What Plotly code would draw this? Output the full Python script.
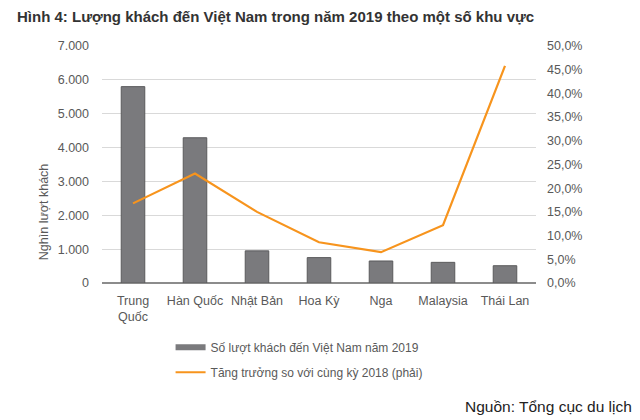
import plotly.graph_objects as go

categories = ["Trung<br>Quốc", "Hàn Quốc", "Nhật Bản", "Hoa Kỳ", "Nga", "Malaysia", "Thái Lan"]
visitors = [5800, 4290, 950, 750, 650, 610, 510]
growth = [16.8, 23.1, 15.0, 8.6, 6.5, 12.2, 45.8]

left_ticks = [0, 1000, 2000, 3000, 4000, 5000, 6000, 7000]
left_labels = ["0", "1.000", "2.000", "3.000", "4.000", "5.000", "6.000", "7.000"]
right_ticks = [0, 5, 10, 15, 20, 25, 30, 35, 40, 45, 50]
right_labels = [f"{v},0%" for v in right_ticks]

FONT = "Liberation Sans, Arial, sans-serif"
GRAY = "#595959"
BAR = "#7a7a7d"

fig = go.Figure()
fig.add_trace(go.Bar(
    x=categories, y=visitors, name="Số lượt khách đến Việt Nam năm 2019",
    marker=dict(color=BAR, line=dict(color="#5a5a5c", width=1)),
    width=0.38, yaxis="y", showlegend=False,
))
# legend entry drawn as a wide gray swatch, like the reference
fig.add_trace(go.Scatter(
    x=[None], y=[None], name="Số lượt khách đến Việt Nam năm 2019",
    mode="lines", line=dict(color=BAR, width=6), legendgroup="a",
))
fig.add_trace(go.Scatter(
    x=categories, y=growth, name="Tăng trưởng so với cùng kỳ 2018 (phải)",
    mode="lines", line=dict(color="#f7941d", width=2.2),
    yaxis="y2", legendgroup="b",
))

fig.update_layout(
    width=640, height=420,
    paper_bgcolor="white", plot_bgcolor="white",
    margin=dict(l=94, r=112, t=38, b=145),
    font=dict(family=FONT, size=12, color=GRAY),
    showlegend=True,
    legend=dict(x=0.158, y=-0.21, xanchor="left", yanchor="top",
                font=dict(size=12, color=GRAY), tracegroupgap=6,
                traceorder="grouped", bgcolor="rgba(0,0,0,0)"),
    xaxis=dict(showgrid=False, showline=False, ticks="", ticklabelstandoff=8,
               tickfont=dict(size=12.5, color=GRAY)),
    yaxis=dict(range=[0, 7000], tickvals=left_ticks, ticktext=left_labels,
               showgrid=True, gridcolor="#d9d9d9", gridwidth=1,
               zeroline=True, zerolinecolor="#8c8c8c", zerolinewidth=1.5,
               showline=False, ticks="", ticklabelstandoff=12,
               tickfont=dict(size=12.5, color=GRAY)),
    yaxis2=dict(range=[0, 50], tickvals=right_ticks, ticktext=right_labels,
                overlaying="y", side="right", showgrid=False, zeroline=False,
                showline=False, ticks="", ticklabelstandoff=10,
                tickfont=dict(size=12.5, color=GRAY)),
    annotations=[
        dict(text="<b>Hình 4: Lượng khách đến Việt Nam trong năm 2019 theo một số khu vực</b>",
             xref="paper", yref="paper", x=-0.2, y=1.125, xanchor="left", yanchor="middle",
             showarrow=False, font=dict(size=15, color="#333333", family=FONT)),
        dict(text="Nghìn lượt khách", xref="paper", yref="paper",
             x=-0.133, y=0.3, textangle=-90, xanchor="center", yanchor="middle",
             showarrow=False, font=dict(size=12.5, color=GRAY)),
        dict(text="Nguồn: Tổng cục du lịch", xref="paper", yref="paper",
             x=1.226, y=-0.523, xanchor="right", yanchor="middle",
             showarrow=False, font=dict(size=15.5, color="#222222")),
    ],
)

fig.write_html("out.html")
